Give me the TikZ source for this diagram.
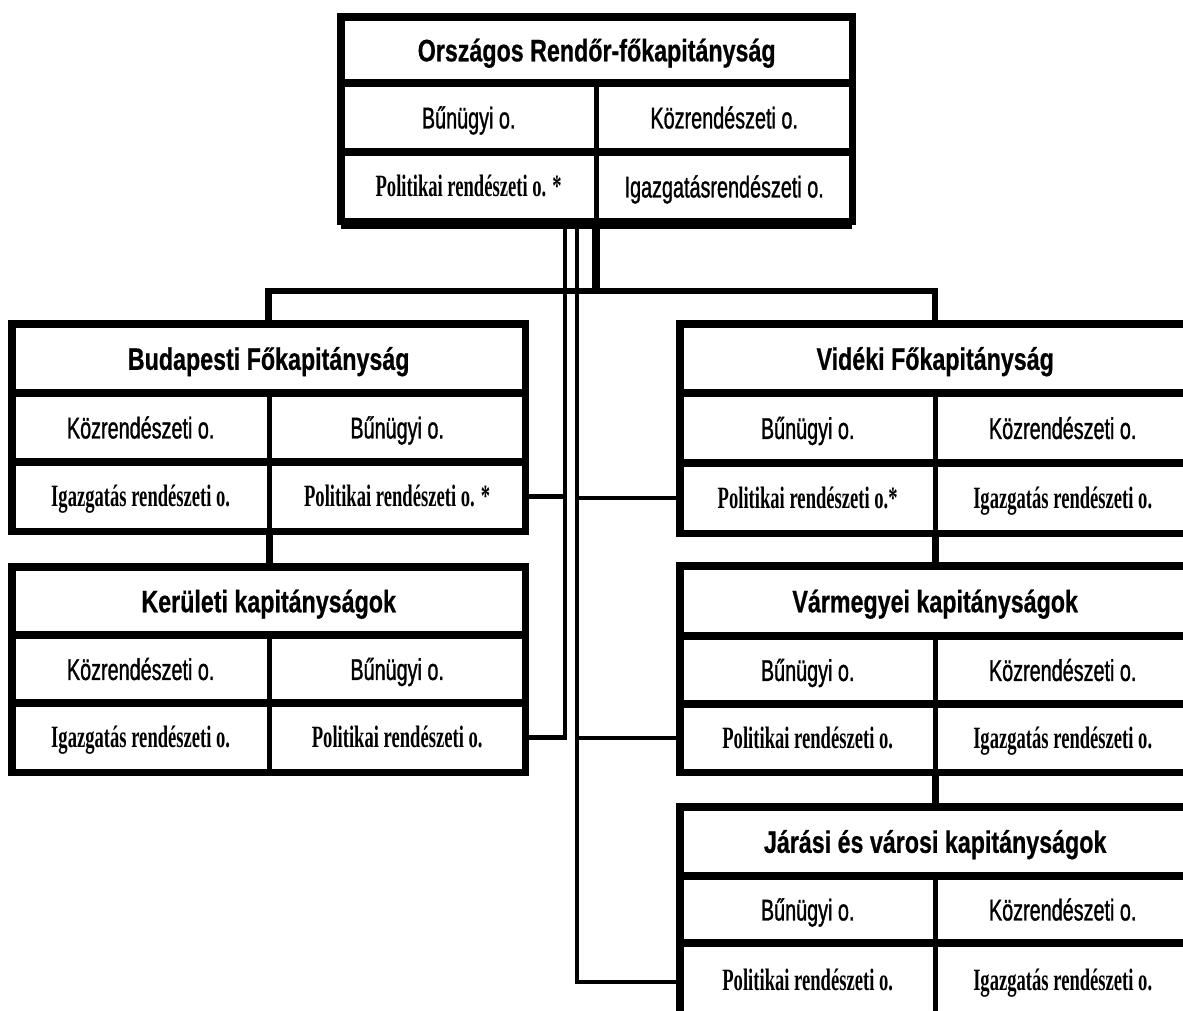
\documentclass[tikz,border=0pt]{standalone}
\usepackage{fontspec}
\setmainfont{Liberation Sans}
\newfontfamily\orgtitlefont[FakeStretch=0.75,FakeBold=0.6]{Liberation Sans}
\newfontfamily\orgsansfont[FakeStretch=0.66,FakeBold=1]{Liberation Sans}
\newfontfamily\orgseriffont[FakeStretch=0.6]{Liberation Serif}
\tikzset{
  boxline/.style={line width=7.5pt},
  colline/.style={line width=5pt},
  busline/.style={line width=6.5pt},
  linkline/.style={line width=4.5pt},
  cellbox/.style 2 args={minimum width=#1, minimum height=#2, inner sep=0pt, anchor=north west},
  ttl/.style={font=\orgtitlefont\bfseries\fontsize{31}{32}\selectfont, text height=22.2pt, text depth=0pt},
  sns/.style={font=\orgsansfont\fontsize{30}{32}\selectfont, text height=21.5pt, text depth=0pt},
  srf/.style={font=\orgseriffont\bfseries\fontsize{31}{32}\selectfont, text height=20.5pt, text depth=0pt},
}
\begin{document}
\begin{tikzpicture}[x=1pt,y=-1pt]
\useasboundingbox (0,0) rectangle (1183,1010);
\fill[white] (0,0) rectangle (1183,1010);
\clip (0,0) rectangle (1183,1010);

% guide coordinates
\coordinate (bus) at (0,291);
\coordinate (v1) at (565,0);
\coordinate (v2) at (577,0);

% ---------- Országos Rendőr-főkapitányság ----------
\node[cellbox={511}{66},ttl] (Tt) at (341,17) {Országos Rendőr-főkapitányság};
\node[cellbox={255}{69},sns] (T1l) at (341,83) {Bűnügyi o.};
\node[cellbox={256}{69},sns] (T1r) at (596,83) {Közrendészeti o.};
\node[cellbox={255}{69},srf] (T2l) at (341,152) {Politikai rendészeti o. *};
\node[cellbox={256}{69},sns] (T2r) at (596,152) {Igazgatásrendészeti o.};
\draw[boxline] (Tt.north west) rectangle (T2r.south east);
\draw[boxline] (T1l.north west) -- (T1r.north east);
\draw[boxline] (T2l.north west) -- (T2r.north east);
\draw[colline] (T1l.north east) -- (T2l.south east);
\draw[line width=11pt] ([yshift=-2pt]T2l.south west) -- ([yshift=-2pt]T2r.south east);

% ---------- Budapesti Főkapitányság ----------
\node[cellbox={513}{69},ttl] (Bt) at (12,324) {Budapesti Főkapitányság};
\node[cellbox={257}{69},sns] (B1l) at (12,393) {Közrendészeti o.};
\node[cellbox={256}{69},sns] (B1r) at (269,393) {Bűnügyi o.};
\node[cellbox={257}{69},srf] (B2l) at (12,462) {Igazgatás rendészeti o.};
\node[cellbox={256}{69},srf] (B2r) at (269,462) {Politikai rendészeti o. *};
\draw[boxline] (Bt.north west) rectangle (B2r.south east);
\draw[boxline] (B1l.north west) -- (B1r.north east);
\draw[boxline] (B2l.north west) -- (B2r.north east);
\draw[colline] (B1l.north east) -- (B2l.south east);

% ---------- Kerületi kapitányságok ----------
\node[cellbox={513}{68},ttl] (Kt) at (12,567) {Kerületi kapitányságok};
\node[cellbox={257}{68},sns] (K1l) at (12,635) {Közrendészeti o.};
\node[cellbox={256}{68},sns] (K1r) at (269,635) {Bűnügyi o.};
\node[cellbox={257}{69},srf] (K2l) at (12,703) {Igazgatás rendészeti o.};
\node[cellbox={256}{69},srf] (K2r) at (269,703) {Politikai rendészeti o.};
\draw[boxline] (Kt.north west) rectangle (K2r.south east);
\draw[boxline] (K1l.north west) -- (K1r.north east);
\draw[boxline] (K2l.north west) -- (K2r.north east);
\draw[colline] (K1l.north east) -- (K2l.south east);

% ---------- Vidéki Főkapitányság ----------
\node[cellbox={510}{69},ttl] (Vt) at (680,324) {Vidéki Főkapitányság};
\node[cellbox={255}{70},sns] (V1l) at (680,393) {Bűnügyi o.};
\node[cellbox={255}{70},sns] (V1r) at (935,393) {Közrendészeti o.};
\node[cellbox={255}{70},srf] (V2l) at (680,463) {Politikai rendészeti o.*};
\node[cellbox={255}{70},srf] (V2r) at (935,463) {Igazgatás rendészeti o.};
\draw[boxline] (Vt.north west) rectangle (V2r.south east);
\draw[boxline] (V1l.north west) -- (V1r.north east);
\draw[boxline] (V2l.north west) -- (V2r.north east);
\draw[colline] (V1l.north east) -- (V2l.south east);

% ---------- Vármegyei kapitányságok ----------
\node[cellbox={510}{70},ttl] (Mt) at (680,566) {Vármegyei kapitányságok};
\node[cellbox={255}{68},sns] (M1l) at (680,636) {Bűnügyi o.};
\node[cellbox={255}{68},sns] (M1r) at (935,636) {Közrendészeti o.};
\node[cellbox={255}{68},srf] (M2l) at (680,704) {Politikai rendészeti o.};
\node[cellbox={255}{68},srf] (M2r) at (935,704) {Igazgatás rendészeti o.};
\draw[boxline] (Mt.north west) rectangle (M2r.south east);
\draw[boxline] (M1l.north west) -- (M1r.north east);
\draw[boxline] (M2l.north west) -- (M2r.north east);
\draw[colline] (M1l.north east) -- (M2l.south east);

% ---------- Járási és városi kapitányságok ----------
\node[cellbox={510}{69},ttl] (Jt) at (680,807) {Járási és városi kapitányságok};
\node[cellbox={255}{67},sns] (J1l) at (680,876) {Bűnügyi o.};
\node[cellbox={255}{67},sns] (J1r) at (935,876) {Közrendészeti o.};
\node[cellbox={255}{74},srf] (J2l) at (680,943) {Politikai rendészeti o.};
\node[cellbox={255}{74},srf] (J2r) at (935,943) {Igazgatás rendészeti o.};
\draw[boxline] (Jt.north west) rectangle (J2r.south east);
\draw[boxline] (J1l.north west) -- (J1r.north east);
\draw[boxline] (J2l.north west) -- (J2r.north east);
\draw[colline] (J1l.north east) -- (J2l.south east);

% ---------- connectors ----------
\draw[line width=8pt] (T2l.south east) -- (T2l.south east |- bus);
\draw[busline] (Bt.north) -- (Bt.north |- bus) -| (Vt.north);
\draw[busline] (B2l.south east) -- (B2l.south east |- Kt.north);
\draw[busline] (V2l.south east) -- (V2l.south east |- Mt.north);
\draw[busline] (M2l.south east) -- (M2l.south east |- Jt.north);

\draw[linkline] (T2l.south -| v1) -- (K2r.east -| v1) -- (K2r.east);
\draw[linkline] (B2r.east) -- (B2r.east -| v1);
\draw[linkline] (T2l.south -| v2) -- ([yshift=-2pt]J2l.west -| v2) -- ([yshift=-2pt]J2l.west);
\draw[linkline] (V2l.west) -- (V2l.west -| v2);
\draw[linkline] (M2l.west) -- (M2l.west -| v2);
\end{tikzpicture}
\end{document}
